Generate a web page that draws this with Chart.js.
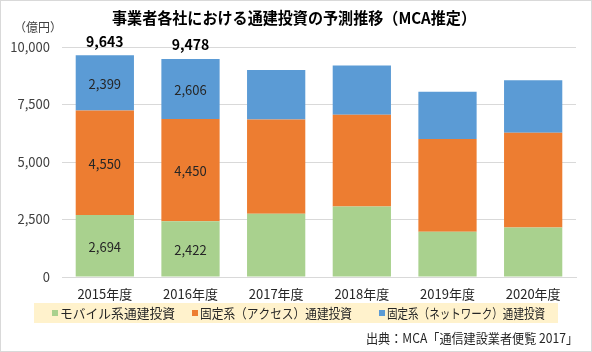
<!DOCTYPE html>
<html lang="ja">
<head>
<meta charset="UTF-8">
<title>通建投資の予測推移</title>
<script src="https://cdn.jsdelivr.net/npm/chart.js"></script>
<style>
  html, body { margin: 0; padding: 0; background: #fff; }
  #wrap { width: 592px; height: 352px; }
</style>
</head>
<body>
<div id="wrap"><canvas id="chart" width="592" height="352"></canvas></div>
<script>
// データ（億円）
const years = ['2015年度', '2016年度', '2017年度', '2018年度', '2019年度', '2020年度'];
const mobile = [2694, 2422, 2750, 3070, 1970, 2150];
const access = [4550, 4450, 4100, 3980, 4030, 4120];
const network = [2399, 2606, 2150, 2150, 2050, 2280];
const totalLabels = ['9,643', '9,478'];
const seriesNames = ['モバイル系通建投資', '固定系（アクセス）通建投資', '固定系（ネットワーク）通建投資'];
const yTicks = [0, 2500, 5000, 7500, 10000];

const colors = ['#A9D18E', '#ED7D31', '#5B9BD5'];
const font = '"Noto Sans CJK JP", "Noto Sans", sans-serif';
const labeled = [0, 1]; // 値ラベルがあるのは2015・2016年度だけ

const fmt = v => v.toLocaleString('en-US');

const extras = {
  id: 'extras',
  beforeDraw(chart) {
    const ctx = chart.ctx;
    ctx.save();
    ctx.fillStyle = '#fff';
    ctx.fillRect(0, 0, chart.width, chart.height);
    ctx.restore();
  },
  afterDatasetsDraw(chart) {
    const ctx = chart.ctx;
    ctx.save();
    ctx.textAlign = 'center';
    ctx.textBaseline = 'middle';
    ctx.fillStyle = '#262626';
    ctx.font = '13px ' + font;
    chart.data.datasets.forEach((ds, d) => {
      const meta = chart.getDatasetMeta(d);
      labeled.forEach(i => {
        const el = meta.data[i];
        ctx.fillText(fmt(ds.data[i]), el.x, (el.y + el.base) / 2 + 1);
      });
    });
    // 合計
    const top = chart.getDatasetMeta(2);
    ctx.font = 'bold 14px ' + font;
    ctx.fillStyle = '#000';
    labeled.forEach((i, k) => {
      const el = top.data[i];
      ctx.fillText(totalLabels[k], el.x, el.y - 14);
    });

    // タイトル・単位・出典
    ctx.font = 'bold 16px ' + font;
    ctx.fillText('事業者各社における通建投資の予測推移（MCA推定）', 294, 18, 364);
    ctx.font = '12px ' + font;
    ctx.fillStyle = '#404040';
    ctx.textAlign = 'left';
    ctx.fillText('（億円）', 14, 27);
    ctx.textAlign = 'right';
    ctx.font = '13px ' + font;
    ctx.fillStyle = '#262626';
    ctx.fillText('出典：MCA「通信建設業者便覧 2017」', 578, 338, 212);

    // 凡例
    ctx.fillStyle = '#FFF2CC';
    ctx.fillRect(34, 303, 524, 20);
    const lx = [52, 192, 379];
    const lw = [115, 152, 158];
    ctx.textAlign = 'left';
    ctx.font = '13px ' + font;
    seriesNames.forEach((name, k) => {
      ctx.fillStyle = colors[k];
      ctx.fillRect(lx[k], 310, 6, 6);
      ctx.fillStyle = '#262626';
      ctx.fillText(name, lx[k] + 8, 313.5, lw[k]);
    });

    // 枠
    ctx.strokeStyle = '#d9d9d9';
    ctx.lineWidth = 1;
    ctx.strokeRect(0.5, 0.5, chart.width - 1, chart.height - 1);
    ctx.restore();
  }
};

new Chart(document.getElementById('chart'), {
  type: 'bar',
  data: {
    labels: years,
    datasets: [
      { label: seriesNames[0], data: mobile, backgroundColor: colors[0] },
      { label: seriesNames[1], data: access, backgroundColor: colors[1] },
      { label: seriesNames[2], data: network, backgroundColor: colors[2] }
    ]
  },
  options: {
    responsive: false,
    animation: false,
    layout: { padding: { left: 0, right: 16, top: 47, bottom: 51 } },
    datasets: { bar: { categoryPercentage: 1, barPercentage: 0.68 } },
    plugins: { legend: { display: false }, title: { display: false }, tooltip: { enabled: false } },
    scales: {
      x: {
        stacked: true,
        afterFit: s => { s.height = 24; },
        grid: { display: false },
        border: { color: '#d9d9d9' },
        ticks: { color: '#262626', font: { family: font, size: 13, lineHeight: 1 }, padding: 3, maxRotation: 0 }
      },
      y: {
        stacked: true,
        min: 0,
        max: 10000,
        afterFit: s => { s.width = 62; },
        afterBuildTicks: s => { s.ticks = yTicks.map(v => ({ value: v })); },
        grid: { color: '#d9d9d9', drawTicks: false },
        border: { display: false },
        ticks: { color: '#404040', font: { family: font, size: 13 }, padding: 12, callback: v => fmt(v) }
      }
    }
  },
  plugins: [extras]
});
</script>
</body>
</html>
